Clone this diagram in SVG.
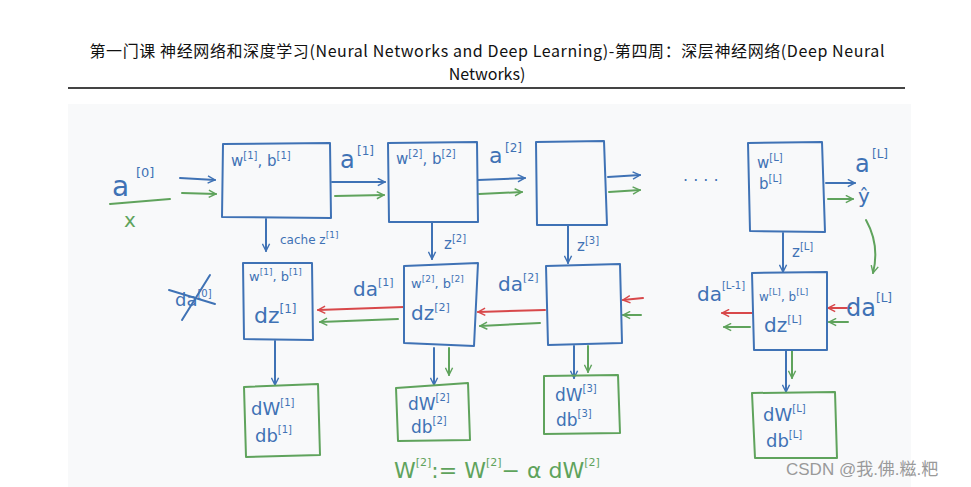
<svg xmlns="http://www.w3.org/2000/svg" width="971" height="487" viewBox="0 0 971 487">
<style>
.title{font-family:"Noto Sans CJK SC","Noto Sans",sans-serif;font-size:16px;fill:#111;text-anchor:middle}
.b{fill:none;stroke:#3f72b5;stroke-width:2;stroke-linejoin:round;stroke-linecap:round}
.g{fill:none;stroke:#5fa35c;stroke-width:2;stroke-linecap:round}
.r{fill:none;stroke:#d8484a;stroke-width:2;stroke-linecap:round}
.box{fill:none;stroke:#3f72b5;stroke-width:2;stroke-linejoin:round}
.gbox{fill:none;stroke:#5fa35c;stroke-width:2;stroke-linejoin:round}
.t{font-family:"DejaVu Sans","Noto Sans",sans-serif;fill:#3f72b5}
.tg{font-family:"DejaVu Sans","Noto Sans",sans-serif;fill:#5fa35c}
.wm{font-family:"Liberation Sans","Noto Sans CJK SC",sans-serif;font-size:17px;fill:#9a9a9a}
</style>
<defs>
<marker id="ab" viewBox="0 0 10 10" refX="9" refY="5" markerWidth="9" markerHeight="9" markerUnits="userSpaceOnUse" orient="auto"><path d="M1,1 L9,5 L1,9" fill="none" stroke="#3f72b5" stroke-width="1.6"/></marker>
<marker id="ag" viewBox="0 0 10 10" refX="9" refY="5" markerWidth="9" markerHeight="9" markerUnits="userSpaceOnUse" orient="auto"><path d="M1,1 L9,5 L1,9" fill="none" stroke="#5fa35c" stroke-width="1.6"/></marker>
<marker id="ar" viewBox="0 0 10 10" refX="9" refY="5" markerWidth="9" markerHeight="9" markerUnits="userSpaceOnUse" orient="auto"><path d="M1,1 L9,5 L1,9" fill="none" stroke="#d8484a" stroke-width="1.6"/></marker>
</defs>
<rect width="971" height="487" fill="#ffffff"/>
<g id="header">
<text class="title" x="487" y="57" textLength="795" lengthAdjust="spacing">第一门课 神经网络和深度学习(Neural Networks and Deep Learning)-第四周：深层神经网络(Deep Neural</text>
<text class="title" x="487" y="80">Networks)</text>
<line x1="68" y1="88" x2="905" y2="88" stroke="#444" stroke-width="2"/>
</g>
<rect x="68" y="104" width="843" height="383" fill="#f8f9fa"/>

<g id="connectors">
<path class="b" d="M180,178 L215,180" marker-end="url(#ab)"/>
<path class="g" d="M182,193 L216,194" marker-end="url(#ag)"/>
<path class="b" d="M332,182 L385,182" marker-end="url(#ab)"/>
<path class="g" d="M335,196 L384,195" marker-end="url(#ag)"/>
<path class="b" d="M478,180 L525,178" marker-end="url(#ab)"/>
<path class="g" d="M479,194 L522,192" marker-end="url(#ag)"/>
<path class="b" d="M608,177 L640,175" marker-end="url(#ab)"/>
<path class="g" d="M609,192 L640,190" marker-end="url(#ag)"/>
<path class="b" d="M826,183 L855,183" marker-end="url(#ab)"/>
<path class="g" d="M828,199 L853,199" marker-end="url(#ag)"/>
<path class="g" d="M866,220 Q880,245 873,273" marker-end="url(#ag)"/>
<path class="b" d="M266,219 L266,251" marker-end="url(#ab)"/>
<path class="b" d="M432,223 L432,259" marker-end="url(#ab)"/>
<path class="b" d="M568,226 L568,263" marker-end="url(#ab)"/>
<path class="b" d="M783,233 L783,272" marker-end="url(#ab)"/>
<path class="r" d="M404,307 L318,310" marker-end="url(#ar)"/>
<path class="g" d="M398,319 L320,322" marker-end="url(#ag)"/>
<path class="r" d="M545,310 L478,312" marker-end="url(#ar)"/>
<path class="g" d="M540,323 L480,326" marker-end="url(#ag)"/>
<path class="r" d="M643,298 L623,300" marker-end="url(#ar)"/>
<path class="g" d="M641,315 L623,315" marker-end="url(#ag)"/>
<path class="r" d="M752,313 L722,313" marker-end="url(#ar)"/>
<path class="g" d="M750,327 L724,327" marker-end="url(#ag)"/>
<path class="r" d="M851,308 L828,308" marker-end="url(#ar)"/>
<path class="g" d="M848,322 L829,322" marker-end="url(#ag)"/>
<path class="b" d="M275,341 L275,385" marker-end="url(#ab)"/>
<path class="b" d="M434,348 L434,385" marker-end="url(#ab)"/>
<path class="g" d="M449,348 L449,375" marker-end="url(#ag)"/>
<path class="b" d="M574,346 L574,378" marker-end="url(#ab)"/>
<path class="g" d="M588,346 L588,372" marker-end="url(#ag)"/>
<path class="b" d="M786,351 L786,392" marker-end="url(#ab)"/>
<path class="g" d="M792,351 L792,378" marker-end="url(#ag)"/>
</g>

<g id="input">
<text class="t" x="112" y="196" font-size="28">a</text>
<text class="t" x="136" y="177" font-size="13">[0]</text>
<path class="g" d="M110,204 L170,199"/>
<text class="tg" x="124" y="227" font-size="20">x</text>
</g>
<g id="layer1">
<path class="box" d="M223,144 L330,143 L331,218 L222,217 Z"/>
<text class="t" x="231" y="166" font-size="15">w<tspan font-size="10" dy="-7">[1]</tspan><tspan dy="7">, b</tspan><tspan font-size="10" dy="-7">[1]</tspan></text>
</g>
<g id="a1">
<text class="t" x="340" y="168" font-size="24">a</text>
<text class="t" x="357" y="155" font-size="12">[1]</text>
</g>
<g id="layer2">
<path class="box" d="M388,143 L477,142 L478,222 L389,222 Z"/>
<text class="t" x="396" y="164" font-size="15">w<tspan font-size="10" dy="-7">[2]</tspan><tspan dy="7">, b</tspan><tspan font-size="10" dy="-7">[2]</tspan></text>
</g>
<g id="a2">
<text class="t" x="489" y="163" font-size="22">a</text>
<text class="t" x="505" y="152" font-size="12">[2]</text>
</g>
<g id="layer3">
<path class="box" d="M536,142 L604,141 L607,225 L537,225 Z"/>
</g>
<g id="dots">
<text class="t" x="683" y="186" font-size="16" fill="#555">· · · ·</text>
</g>
<g id="layerL">
<path class="box" d="M748,143 L822,142 L825,232 L750,231 Z"/>
<text class="t" x="757" y="168" font-size="15">w<tspan font-size="10" dy="-7">[L]</tspan></text>
<text class="t" x="759" y="189" font-size="15">b<tspan font-size="10" dy="-7">[L]</tspan></text>
</g>
<g id="output">
<text class="t" x="855" y="172" font-size="24">a</text>
<text class="t" x="872" y="158" font-size="12">[L]</text>
<text class="t" x="858" y="203" font-size="20">ŷ</text>
</g>
<g id="zlabels">
<text class="t" x="280" y="244" font-size="12">cache z<tspan font-size="9" dy="-6">[1]</tspan></text>
<text class="t" x="444" y="249" font-size="15">z<tspan font-size="10" dy="-7">[2]</tspan></text>
<text class="t" x="577" y="251" font-size="15">z<tspan font-size="10" dy="-7">[3]</tspan></text>
<text class="t" x="792" y="257" font-size="15">z<tspan font-size="10" dy="-7">[L]</tspan></text>
</g>
<g id="da0">
<text class="t" x="175" y="306" font-size="18">da<tspan font-size="10" dy="-9">[0]</tspan></text>
<path class="b" d="M169,290 L215,304"/>
<path class="b" d="M182,320 L210,275"/>
</g>
<g id="back1">
<path class="box" d="M243,263 L312,263 L313,340 L244,339 Z"/>
<text class="t" x="249" y="281" font-size="13">w<tspan font-size="9" dy="-6">[1]</tspan><tspan dy="6">, b</tspan><tspan font-size="9" dy="-6">[1]</tspan></text>
<text class="t" x="254" y="323" font-size="22">dz<tspan font-size="12" dy="-10">[1]</tspan></text>
</g>
<g id="da1">
<text class="t" x="353" y="296" font-size="20">da<tspan font-size="11" dy="-10">[1]</tspan></text>
</g>
<g id="back2">
<path class="box" d="M404,266 L478,263 L474,346 L404,343 Z"/>
<text class="t" x="411" y="288" font-size="13">w<tspan font-size="9" dy="-6">[2]</tspan><tspan dy="6">, b</tspan><tspan font-size="9" dy="-6">[2]</tspan></text>
<text class="t" x="411" y="320" font-size="20">dz<tspan font-size="11" dy="-9">[2]</tspan></text>
</g>
<g id="da2">
<text class="t" x="498" y="291" font-size="20">da<tspan font-size="11" dy="-10">[2]</tspan></text>
</g>
<g id="back3">
<path class="box" d="M546,266 L620,264 L622,343 L548,345 Z"/>
</g>
<g id="daL1">
<text class="t" x="697" y="301" font-size="20">da<tspan font-size="10" dy="-12">[L-1]</tspan></text>
</g>
<g id="backL">
<path class="box" d="M752,273 L827,272 L827,350 L754,350 Z"/>
<text class="t" x="759" y="301" font-size="12">w<tspan font-size="9" dy="-6">[L]</tspan><tspan dy="6">, b</tspan><tspan font-size="9" dy="-6">[L]</tspan></text>
<text class="t" x="764" y="332" font-size="20">dz<tspan font-size="11" dy="-9">[L]</tspan></text>
</g>
<g id="daL">
<text class="t" x="846" y="316" font-size="24">da<tspan font-size="12" dy="-14">[L]</tspan></text>
</g>
<g id="grad1">
<path class="gbox" d="M244,387 L318,384 L320,455 L246,457 Z"/>
<text class="t" x="251" y="415" font-size="18">dW<tspan font-size="10" dy="-9">[1]</tspan></text>
<text class="t" x="255" y="442" font-size="18">db<tspan font-size="10" dy="-9">[1]</tspan></text>
</g>
<g id="grad2">
<path class="gbox" d="M396,388 L468,383 L470,440 L398,441 Z"/>
<text class="t" x="408" y="410" font-size="17">dW<tspan font-size="10" dy="-9">[2]</tspan></text>
<text class="t" x="411" y="433" font-size="17">db<tspan font-size="10" dy="-9">[2]</tspan></text>
</g>
<g id="grad3">
<path class="gbox" d="M544,376 L618,375 L620,433 L544,434 Z"/>
<text class="t" x="555" y="401" font-size="17">dW<tspan font-size="10" dy="-9">[3]</tspan></text>
<text class="t" x="556" y="426" font-size="17">db<tspan font-size="10" dy="-9">[3]</tspan></text>
</g>
<g id="gradL">
<path class="gbox" d="M752,393 L835,392 L837,458 L755,458 Z"/>
<text class="t" x="763" y="421" font-size="18">dW<tspan font-size="10" dy="-9">[L]</tspan></text>
<text class="t" x="766" y="447" font-size="18">db<tspan font-size="10" dy="-9">[L]</tspan></text>
</g>
<g id="update">
<text class="tg" x="394" y="478" font-size="22">W<tspan font-size="11" dy="-12">[2]</tspan><tspan dy="12">:= W</tspan><tspan font-size="11" dy="-12">[2]</tspan><tspan dy="12">− α dW</tspan><tspan font-size="11" dy="-12">[2]</tspan></text>
</g>
<text class="wm" x="786" y="475">CSDN @我.佛.糍.粑</text>
</svg>
